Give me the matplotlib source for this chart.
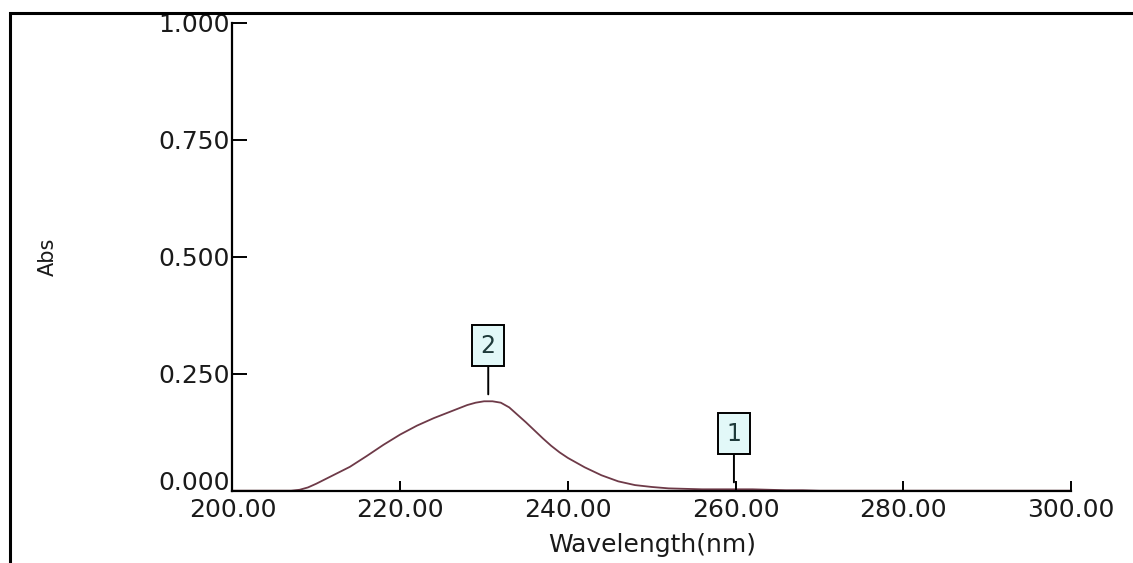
import matplotlib
matplotlib.use("Agg")
import matplotlib.pyplot as plt
import matplotlib.transforms as mtransforms
from matplotlib.patches import Rectangle

# spectrum
wavelength = [200, 204, 206, 207, 208, 209, 210, 212, 214, 216, 218, 220, 222, 224,
              226, 227, 228, 229, 230, 231, 232, 233, 234, 235, 236, 237, 238, 239,
              240, 241, 242, 244, 246, 248, 250, 252, 254, 256, 258, 260, 262, 264,
              266, 268, 270, 280, 290, 300]
absorbance = [0.000, 0.000, 0.000, 0.000, 0.002, 0.007, 0.015, 0.033, 0.051, 0.074,
              0.098, 0.120, 0.139, 0.155, 0.169, 0.176, 0.183, 0.188, 0.191, 0.191,
              0.188, 0.178, 0.162, 0.146, 0.129, 0.112, 0.096, 0.082, 0.070, 0.060,
              0.050, 0.033, 0.020, 0.012, 0.008, 0.005, 0.004, 0.003, 0.003, 0.003,
              0.003, 0.002, 0.001, 0.001, 0.000, 0.000, 0.000, 0.000]

# peak markers
peak_labels = ["2", "1"]
peak_wl = [230.5, 259.8]
peak_abs = [0.191, 0.003]

x_ticks = [200, 220, 240, 260, 280, 300]
y_ticks = [0.0, 0.25, 0.5, 0.75, 1.0]

fig = plt.figure(figsize=(11.33, 5.63), dpi=100)
ax = fig.add_axes([0.2052, 0.1284, 0.9453 - 0.2052, 0.960 - 0.1284])

ax.plot(wavelength, absorbance, color="#6e3a48", lw=1.3, clip_on=False, zorder=1)

ax.set_xlim(200, 300)
ax.set_ylim(0, 1.0)
ax.set_xticks(x_ticks)
ax.set_xticklabels([f"{v:.2f}" for v in x_ticks])
ax.set_yticks(y_ticks)
ax.set_yticklabels([f"{v:.3f}" for v in y_ticks])

for side in ["top", "right"]:
    ax.spines[side].set_visible(False)
for side in ["left", "bottom"]:
    ax.spines[side].set_linewidth(1.6)

ax.tick_params(axis="y", direction="in", length=11, width=1.4, pad=2,
               labelsize=18, labelcolor="#1a1a1a")
ax.tick_params(axis="x", direction="in", length=7.5, width=1.4, pad=5,
               labelsize=18, labelcolor="#1a1a1a")

# the 0.000 label sits a little above its tick in the reference
zero_lab = ax.get_yticklabels()[0]
zero_lab.set_transform(zero_lab.get_transform() +
                       mtransforms.ScaledTranslation(0, 10 / 100, fig.dpi_scale_trans))

ax.set_xlabel("Wavelength(nm)", fontsize=18, color="#1a1a1a", labelpad=8)
ax.set_ylabel("Abs", fontsize=15, color="#1a1a1a", labelpad=0)
ax.yaxis.set_label_coords(-0.208, 0.5)

for lab, wl, ab in zip(peak_labels, peak_wl, peak_abs):
    ax.annotate(lab, xy=(wl, ab), xytext=(0, 40), textcoords="offset points",
                ha="center", va="center", fontsize=17, color="#1e3a3a",
                bbox=dict(boxstyle="square,pad=0.36", fc="#e2f8f8", ec="black", lw=1.4),
                arrowprops=dict(arrowstyle="-", lw=1.4, color="black",
                                shrinkA=0, shrinkB=5))

# outer frame of the instrument window
frame = Rectangle((10 / 1133, -0.2), 1.3, 1.2 - 13 / 563,
                  transform=fig.transFigure, fill=False, ec="black", lw=2.2,
                  clip_on=False)
fig.patches.append(frame)

fig.savefig("out.png", dpi=100)
